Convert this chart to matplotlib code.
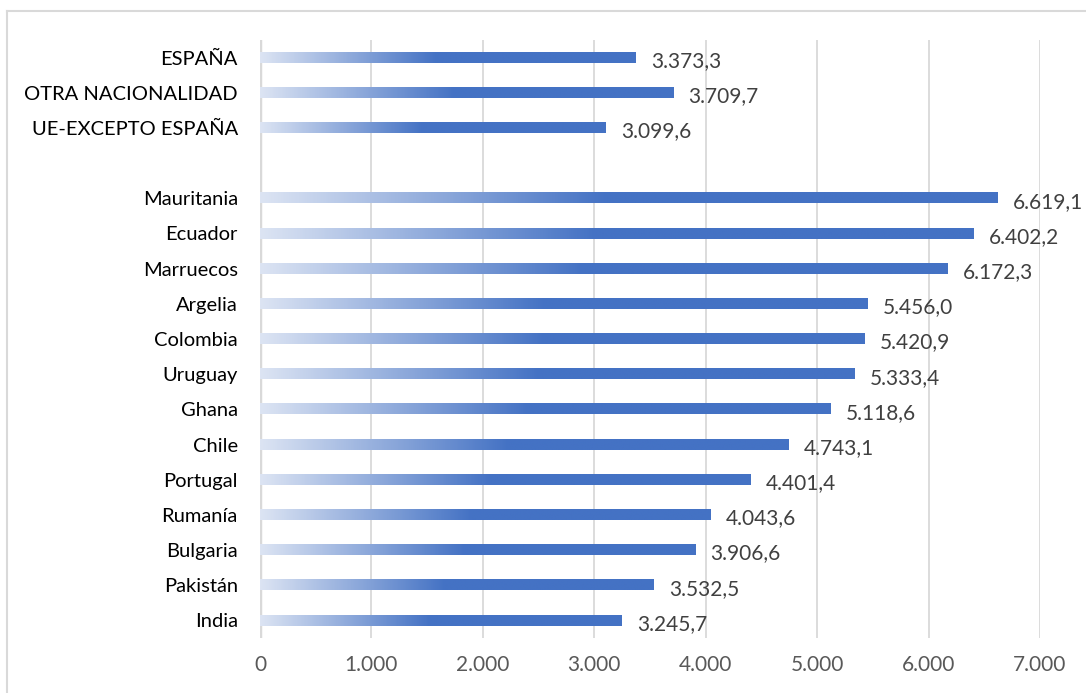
import numpy as np
import matplotlib.pyplot as plt
from matplotlib.colors import LinearSegmentedColormap
from matplotlib.lines import Line2D

# categories top to bottom ("" = empty gap row)
categories = ["ESPAÑA", "OTRA NACIONALIDAD", "UE-EXCEPTO ESPAÑA", "",
              "Mauritania", "Ecuador", "Marruecos", "Argelia", "Colombia",
              "Uruguay", "Ghana", "Chile", "Portugal", "Rumanía", "Bulgaria",
              "Pakistán", "India"]
values = [3373.3, 3709.7, 3099.6, None,
          6619.1, 6402.2, 6172.3, 5456.0, 5420.9,
          5333.4, 5118.6, 4743.1, 4401.4, 4043.6, 3906.6,
          3532.5, 3245.7]
xticks = [0, 1000, 2000, 3000, 4000, 5000, 6000, 7000]


def es_fmt(v, dec=1):
    s = f"{v:,.{dec}f}"
    return s.replace(",", "X").replace(".", ",").replace("X", ".")


plt.rcParams["font.family"] = ["Lato", "DejaVu Sans"]

fig = plt.figure(figsize=(10.86, 6.93), dpi=100)
ax = fig.add_axes([260 / 1086, 1 - 638 / 693, 780 / 1086, 598 / 693])

cmap = LinearSegmentedColormap.from_list("grad", ["#DCE4F3", "#4472C4"])
n = len(categories)
ys = np.arange(n)[::-1]
h = 0.29
grad = np.clip(np.linspace(0, 1, 256) / 0.47, 0, 1).reshape(1, -1)

for y, v in zip(ys, values):
    if v is None:
        continue
    ax.imshow(grad, cmap=cmap, vmin=0, vmax=1, aspect="auto",
              extent=(0, v, y - h / 2, y + h / 2), interpolation="bilinear",
              zorder=2)
    ax.annotate(es_fmt(v), xy=(v, y), xytext=(11, -2.5), textcoords="offset points",
                ha="left", va="center", fontsize=15, color="#404040")

ax.set_xlim(0, 7000)
ax.set_ylim(-0.5, n - 0.5)
ax.set_yticks(ys)
ax.set_yticklabels(categories, fontsize=14.5, color="#000000")
ax.set_xticks(xticks)
ax.set_xticklabels([es_fmt(t, 0) for t in xticks], fontsize=15, color="#595959")
ax.tick_params(axis="y", length=0, pad=16)
ax.tick_params(axis="x", length=0, pad=12)
ax.grid(axis="x", color="#D9D9D9", linewidth=1.3, zorder=0)
ax.set_axisbelow(True)
for s in ax.spines.values():
    s.set_visible(False)
ax.axvline(0, color="#D9D9D9", linewidth=2.5, zorder=1)

# outer chart frame (top and left edges visible)
fig.add_artist(Line2D([7 / 1086, 1], [1 - 11 / 693, 1 - 11 / 693],
                      transform=fig.transFigure, color="#D9D9D9", linewidth=1.5))
fig.add_artist(Line2D([7 / 1086, 7 / 1086], [0, 1 - 11 / 693],
                      transform=fig.transFigure, color="#D9D9D9", linewidth=1.5))

fig.savefig("out.png", dpi=100)
